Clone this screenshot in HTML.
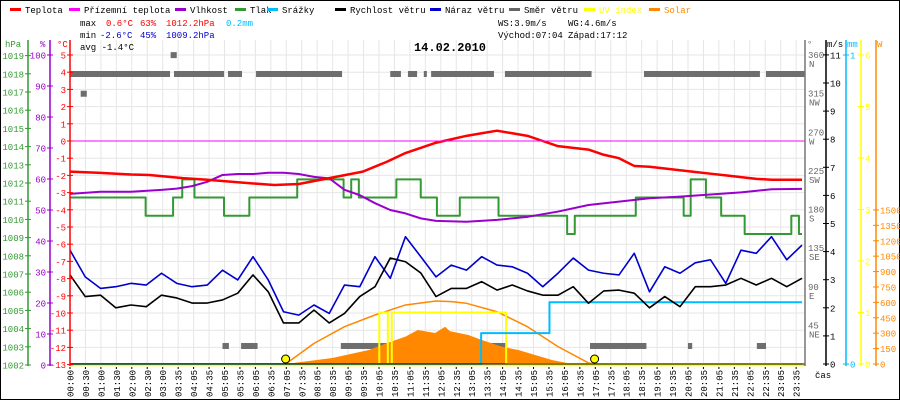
<!DOCTYPE html>
<html><head><meta charset="utf-8"><style>
html,body{margin:0;padding:0;background:#fff}
svg{display:block;font-family:"Liberation Mono","DejaVu Sans Mono",monospace}
</style></head><body>
<svg id="chart" width="900" height="400" viewBox="0 0 900 400" xmlns="http://www.w3.org/2000/svg">
<rect x="0.5" y="0.5" width="899" height="399" fill="#fff" stroke="#000"/>
<g id="grid"></g>
<g id="series"></g>
<g id="axes" font-size="9"></g>
<g font-size="9">
 <g><rect x="10" y="8" width="11" height="3" fill="#f00"/><text x="25" y="13">Teplota</text></g>
 <g><rect x="69" y="8" width="11" height="3" fill="#f0f"/><text x="84" y="13">Přízemní teplota</text></g>
 <g><rect x="175" y="8" width="11" height="3" fill="#90c"/><text x="190" y="13">Vlhkost</text></g>
 <g><rect x="235" y="8" width="11" height="3" fill="#393"/><text x="250" y="13">Tlak</text></g>
 <g><rect x="267" y="8" width="11" height="3" fill="#0bf"/><text x="282" y="13">Srážky</text></g>
 <g><rect x="335" y="8" width="11" height="3" fill="#000"/><text x="350" y="13">Rychlost větru</text></g>
 <g><rect x="430" y="8" width="11" height="3" fill="#00c"/><text x="445" y="13">Náraz větru</text></g>
 <g><rect x="509" y="8" width="11" height="3" fill="#666"/><text x="524" y="13">Směr větru</text></g>
 <g><rect x="584" y="8" width="11" height="3" fill="#ff0"/><text x="599" y="13" fill="#ff0">UV index</text></g>
 <g><rect x="649" y="8" width="11" height="3" fill="#f80"/><text x="664" y="13" fill="#f80">Solar</text></g>
</g>
<g font-size="9">
 <text x="80" y="26">max</text><text x="106" y="26" fill="#f00">0.6°C</text><text x="140" y="26" fill="#f00">63%</text><text x="166" y="26" fill="#f00">1012.2hPa</text><text x="226" y="26" fill="#0bf">0.2mm</text>
 <text x="80" y="38">min</text><text x="100" y="38" fill="#00c">-2.6°C</text><text x="140" y="38" fill="#00c">45%</text><text x="166" y="38" fill="#00c">1009.2hPa</text>
 <text x="80" y="50">avg -1.4°C</text>
 <text x="498" y="26">WS:3.9m/s</text><text x="568" y="26">WG:4.6m/s</text>
 <text x="498" y="38">Východ:07:04</text><text x="568" y="38">Západ:17:12</text>
</g>
<text x="450" y="51" font-size="12" font-weight="bold" text-anchor="middle">14.02.2010</text>
</svg>
<script>
// ---- data ----
const windVals=[3.17,2.4,2.45,2.0,2.1,2.04,2.45,2.35,2.17,2.17,2.28,2.52,3.17,2.57,1.46,1.46,1.92,1.46,1.8,2.4,2.75,3.77,3.64,3.24,2.4,2.69,2.69,2.93,2.63,2.81,2.6,2.45,2.45,2.75,2.16,2.6,2.63,2.52,2.0,2.4,2.04,2.75,2.75,2.81,3.05,2.81,3.05,2.75,3.05];
const gustVals=[4.05,3.1,2.69,2.75,2.87,2.81,3.23,2.87,2.75,2.81,3.34,2.99,3.82,2.99,1.86,1.74,2.1,1.8,2.81,2.75,3.82,3.05,4.53,3.82,3.1,3.52,3.34,3.82,3.52,3.46,3.23,2.75,3.23,3.77,3.34,3.23,3.17,3.94,2.57,3.46,3.23,3.6,3.71,2.87,4.05,3.94,4.53,3.71,4.23];
const tempTimes=[0,1,2,2.6,3.7,4.5,5.5,6.7,7.5,8.5,9.6,10.4,11,11.3,12,13,13.5,14,14.5,15,15.5,16,17,17.5,18,18.5,19,19.5,20,20.5,21,21.5,22,22.5,23,24];
const tempVals=[-1.78,-1.85,-1.95,-1.98,-2.16,-2.25,-2.4,-2.56,-2.5,-2.16,-1.78,-1.2,-0.7,-0.52,-0.1,0.3,0.45,0.6,0.45,0.3,0,-0.3,-0.5,-0.8,-1.0,-1.45,-1.5,-1.6,-1.7,-1.8,-1.9,-2.0,-2.1,-2.2,-2.25,-2.25];
const humTimes=[0,1,2,3,3.5,4,4.5,5,5.5,6,6.5,7,7.5,8,8.5,9,9.5,10,10.5,11,11.5,12,13,14,15,16,17,18,19,20,21,22,23,24];
const humVals=[55.2,55.9,55.9,56.5,56.9,57.7,59.1,61.3,61.6,61.6,62,62,61.6,60.7,60.2,56.5,54.8,52.2,50,48.9,47.3,46.5,46.2,46.8,47.8,49.5,51.6,52.7,53.8,54.3,55,55.7,56.7,56.8];
const presTimes=[0,2.48,3.38,3.68,4.08,5.05,5.88,7.45,8.97,9.22,9.47,10.7,11.5,12.03,12.78,14.05,16.3,16.55,18.55,20.12,20.35,20.85,21.35,22.12,23.65,23.9,24];
const presVals=[1011.2,1010.2,1011.2,1012.2,1011.2,1010.2,1011.2,1012.2,1011.2,1012.2,1011.2,1012.2,1011.2,1010.2,1011.2,1010.2,1009.2,1010.2,1011.2,1010.2,1012.2,1011.2,1010.2,1009.2,1010.2,1009.2,1009.2];
const rainTimes=[0,13.48,15.72,24];
const rainVals=[0,0.1,0.2,0.2];
const uvTimes=[0,10.14,10.42,10.55,14.3,24];
const uvVals=[0,1,0,1,0,0];
const solarTimes=[7.07,8.6,9.8,10.4,11,11.4,11.97,12.3,12.45,13.06,13.5,14.15,14.7,15.25,15.8,16.3,17];
const solarVals=[0,58,136,204,266,331,302,363,320,282,234,169,136,88,39,10,0];
const theoTimes=[7.07,8,9,10,11,12,12.5,13,14,15,16,17,17.2];
const theoVals=[0,201,363,477,575,613,607,591,509,363,169,10,0];
const dirStart=[0,3.41,5.18,6.1,10.5,11.08,11.6,11.84,14.26,18.82,22.82,5.0,5.61,8.88,10.8,11.3,13.44,17.05,20.26,22.52,3.3,0.35];
const dirEnd=[3.28,5.05,5.64,8.92,10.85,11.38,11.7,13.9,17.1,22.62,24.1,5.21,6.15,10.6,11.05,11.8,14.33,18.9,20.4,22.82,3.5,0.55];
const dirAngle=[338,338,338,338,338,338,338,338,338,338,338,21,21,21,21,21,21,21,21,21,360,315];
const sunTimes=[7.07,17.2];
const xLabels=["00:00","00:30","01:00","01:30","02:00","02:30","03:00","03:35","04:05","04:35","05:05","05:35","06:05","06:35","07:05","07:35","08:05","08:35","09:05","09:35","10:05","10:35","11:05","11:35","12:05","12:35","13:05","13:35","14:05","14:35","15:05","15:35","16:05","16:35","17:05","17:35","18:05","18:35","19:05","19:35","20:05","20:35","21:05","21:35","22:05","22:35","23:05","23:35"];

// ---- scales ----
const X=h=>70+h*30.5, T=c=>141-c*17.2, H=p=>365-p*3.1, P=v=>365-(v-1002)*18.2,
V=v=>364-v*28.1, D=d=>364-d*0.858, MM=m=>364-m*309, UV=u=>364-u*51.5, W=w=>364-w*0.1027;
const NS="http://www.w3.org/2000/svg";
function mk(tag,attrs,parent){const e=document.createElementNS(NS,tag);for(const k in attrs)e.setAttribute(k,attrs[k]);parent.appendChild(e);return e;}
const grid=document.getElementById('grid'),ser=document.getElementById('series'),ax=document.getElementById('axes');

for(let i=0;i<xLabels.length;i++){const x=70+i*15.45;
 const l=mk('line',{x1:x,x2:x,y1:40,y2:364,stroke:'#e6e6e6'},grid);
 
 
 const t=mk('text',{x:0,y:0,'font-size':9,transform:`translate(${x+3.5},397) rotate(-90)`},ax);
 t.textContent=xLabels[i];
 
 
 mk('rect',{x:x-0.5,y:367,width:1,height:2,fill:'#000'},ax);
}
for(let c=5;c>=-13;c--){const l=mk('line',{x1:70,x2:805,y1:T(c),y2:T(c),stroke:'#e6e6e6'},grid);
 
 }

function poly(ts,vs,sx,sy,color,w,name,step){let pts=[];
 for(let i=0;i<ts.length;i++){ if(step&&i>0)pts.push(sx(ts[i])+','+sy(vs[i-1])); pts.push(sx(ts[i])+','+sy(vs[i]));}
 const p=mk('polyline',{points:pts.join(' '),fill:'none',stroke:color,'stroke-width':w,'stroke-linejoin':'round'},ser);
 
 return p;}

for(let i=0;i<dirStart.length;i++){const r=mk('rect',{x:X(dirStart[i]),y:D(dirAngle[i])-3,width:Math.max(3,X(dirEnd[i])-X(dirStart[i])),height:6,fill:'#6e6e6e'},ser);
 
 }
{let pts=[X(solarTimes[0])+','+W(0)];for(let i=0;i<solarTimes.length;i++)pts.push(X(solarTimes[i])+','+W(solarVals[i]));pts.push(X(solarTimes[solarTimes.length-1])+','+W(0));
 const p=mk('polygon',{points:pts.join(' '),fill:'#f80'},ser);
 
 }
poly(theoTimes,theoVals,X,W,'#f80',1.5,'solar-theoretical-line',false);
poly(uvTimes,uvVals,X,UV,'#ff0',2,'uv-index-line',true);
poly(rainTimes,rainVals,X,MM,'#0bf',2,'precipitation-line',true);
poly(presTimes,presVals,X,P,'#393',2,'pressure-line',true);
poly(humTimes,humVals,X,H,'#90c',2,'humidity-line',false);
poly(tempTimes,tempVals,X,T,'#f00',2.5,'temperature-line',false);
const half=gustVals.map((_,i)=>i*0.5);
poly(half,gustVals,X,V,'#00c',1.6,'wind-gust-line',false);
poly(half,windVals,X,V,'#000',1.6,'wind-speed-line',false);
{const l=mk('line',{x1:70,x2:805,y1:T(0),y2:T(0),stroke:'#f0f'},ser);
 
 }
for(const s of sunTimes){const c=mk('circle',{cx:X(s),cy:359,r:4,fill:'#ff0',stroke:'#000'},ser);
 
 }

mk('line',{x1:70,x2:805,y1:364,y2:364,stroke:'#000'},ax);
mk('line',{x1:70,x2:805,y1:365.5,y2:365.5,stroke:'#ff0',"stroke-width":1.5},ax);
function axis(x,y1,y2,color,name,ticks,side){
 const l=mk('line',{x1:x,x2:x,y1:y1,y2:y2,stroke:color,'stroke-width':1.5},ax);
 
 
 for(const [y,txt] of ticks){mk('line',{x1:x-3,x2:x+3,y1:y,y2:y,stroke:color},ax);
  const t=mk('text',{x:side<0?x-4:x+4,y:y+3.5,fill:color,'text-anchor':side<0?'end':'start'},ax);
  t.textContent=txt;
  
  }
}
let tk=[];for(let p=1002;p<=1019;p++)tk.push([P(p),p]);axis(28,40,366,'#393','hpa-axis',tk,-1);
tk=[];for(let p=0;p<=100;p+=10)tk.push([H(p),p]);axis(50,40,366,'#90c','humidity-axis',tk,-1);
tk=[];for(let c=5;c>=-13;c--)tk.push([T(c),c]);axis(70,40,366,'#f00','temperature-axis',tk,-1);
axis(805,40,366,'#777','direction-axis',[],1);
const comp=['','NE','E','SE','S','SW','W','NW','N'];
for(let d=45;d<=360;d+=45){const a=mk('text',{x:808,y:D(d)+3,fill:'#666'},ax);a.textContent=d;
 const b=mk('text',{x:809,y:D(d)+12,fill:'#666'},ax);b.textContent=comp[d/45];
 
 }
tk=[];for(let v=0;v<=11;v++)tk.push([V(v),v]);axis(826,40,366,'#000','wind-speed-axis',tk,1);
axis(846,40,366,'#0bf','precipitation-axis',[[MM(0),0],[MM(1),1]],1);
tk=[];for(let u=0;u<=6;u++)tk.push([UV(u),u]);axis(861,40,366,'#ff0','uv-axis',tk,1);
tk=[];for(let w=0;w<=1500;w+=150)tk.push([W(w),w]);axis(876,40,366,'#f80','solar-axis',tk,1);
[['hPa',5,'#393'],['%',40,'#90c'],['°C',57,'#f00'],['°',807,'#777'],['m/s',827,'#000'],['mm',847,'#0bf'],['W',877,'#f80']].forEach(([s,x,c])=>{
 const t=mk('text',{x:x,y:47,fill:c},ax);t.textContent=s;
 
 });
{const t=mk('text',{x:815,y:378},ax);t.textContent='čas';
 
 }
</script>
</body></html>
